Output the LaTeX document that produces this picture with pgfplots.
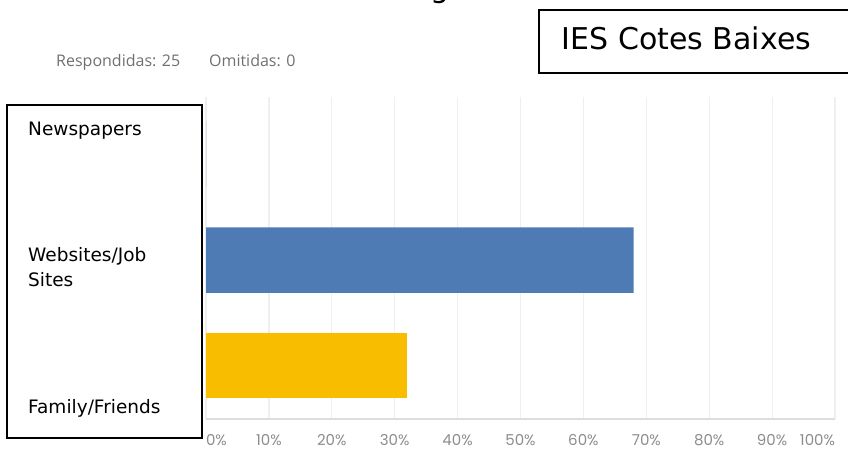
\documentclass[border=0pt]{standalone}
\usepackage{pgfplots}
\pgfplotsset{compat=1.18}
\usepackage{fontspec}
\setmainfont{DejaVu Sans}
\newfontfamily\smallsans{Open Sans}
\newfontfamily\tickfont{Poppins}
\definecolor{barblue}{HTML}{4F7BB4}
\definecolor{baryellow}{HTML}{F9BD00}
\definecolor{gridc}{HTML}{EFEFEF}
\definecolor{basec}{HTML}{DDDDDD}
\definecolor{respc}{HTML}{707070}
\definecolor{tickc}{HTML}{8C8C8C}
\begin{document}
\begin{tikzpicture}[x=1pt,y=1pt]
\useasboundingbox (0,0) rectangle (848,450);
\clip (0,0) rectangle (848,450);
\begin{axis}[
  at={(206pt,31pt)}, anchor=south west,
  scale only axis, width=629pt, height=322pt,
  xmin=0, xmax=100, ymin=-0.507, ymax=2.545,
  xbar, bar width=65.5pt, bar shift=0pt,
  axis y line=none, axis x line*=bottom,
  x axis line style={draw=basec, line width=1.2pt, -},
  xtick={0,10,...,100},
  xticklabels={\makebox[0pt][l]{0\%},10\%,20\%,30\%,40\%,50\%,60\%,70\%,80\%,90\%,\makebox[0pt][r]{100\%}},
  xticklabel style={font=\tickfont\fontsize{15}{17}\selectfont, text=tickc, anchor=base, inner sep=0pt, yshift=-26pt},
  major tick length=0pt,
  xmajorgrids, major grid style={draw=gridc, line width=1.2pt},
  ytick=\empty,
]
\addplot[fill=barblue, draw=none] coordinates {(68,1) (0,2)};
\addplot[fill=baryellow, draw=none] coordinates {(32,0)};
\end{axis}
\draw[line width=1.6pt] (7,12) rectangle (202,345);
\node[anchor=base west, inner sep=0, font=\fontsize{18.5}{22}\selectfont] at (28,314.3) {Newspapers};
\node[anchor=base west, inner sep=0, font=\fontsize{18.5}{22}\selectfont] at (28,188.3) {Websites/Job};
\node[anchor=base west, inner sep=0, font=\fontsize{18.5}{22}\selectfont] at (28,163.3) {Sites};
\node[anchor=base west, inner sep=0, font=\fontsize{18.5}{22}\selectfont] at (28,37) {Family/Friends};
\draw[line width=1.8pt] (539.3,376.7) rectangle (860,440);
\node[anchor=base west, inner sep=0, font=\fontsize{30}{36}\selectfont] at (561.7,400) {IES Cotes Baixes};
\node[anchor=base west, inner sep=0, font=\smallsans\fontsize{16}{18}\selectfont, text=respc] at (56,383.3) {Respondidas: 25};
\node[anchor=base west, inner sep=0, font=\smallsans\fontsize{16}{18}\selectfont, text=respc] at (209,383.3) {Omitidas: 0};
\node[anchor=base, inner sep=0, font=\fontsize{30}{36}\selectfont] at (440,452) {g};
\end{tikzpicture}
\end{document}
